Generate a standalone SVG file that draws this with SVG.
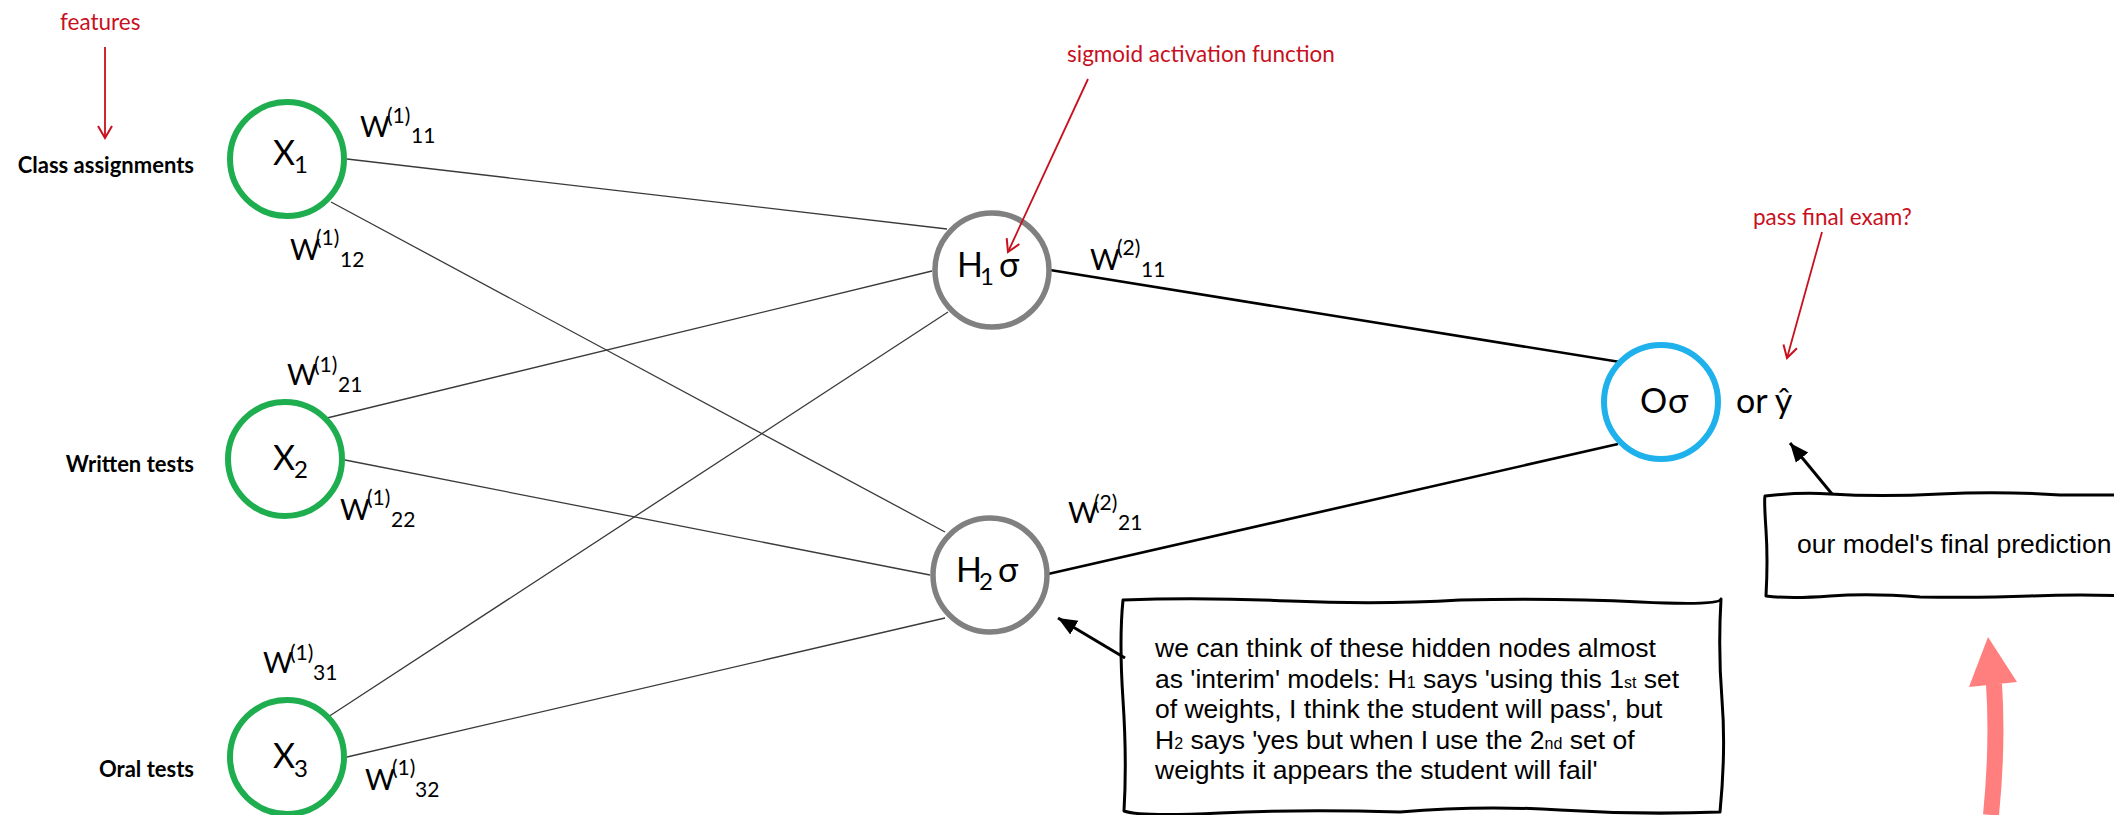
<svg xmlns="http://www.w3.org/2000/svg" width="2114" height="815" viewBox="0 0 2114 815">
<style>
.cat{font-family:Lato,"Liberation Sans",sans-serif;font-weight:bold;font-size:22px;text-anchor:end;fill:#000}
.red{font-family:Lato,"Liberation Sans",sans-serif;font-size:22.5px;fill:#c8101e}
.w{font-family:Lato,"Open Sans",sans-serif;font-size:29px;fill:#000}
.ws{font-size:21px}
.node{font-family:Lato,"Open Sans","DejaVu Sans",sans-serif;font-size:34px;fill:#000}
.nsub{font-size:24px}
.note{font-family:"Liberation Sans",Arial,sans-serif;font-size:26.5px;fill:#000}
.small{font-size:16px}
.inp{fill:#fff;stroke:#1fae4f;stroke-width:6}
.hid{fill:#fff;stroke:#808080;stroke-width:5.5}
.out{fill:#fff;stroke:#1fb1ec;stroke-width:6}
.thin{stroke:#3a3a3a;stroke-width:1.3;fill:none}
.thick{stroke:#000;stroke-width:2.6;fill:none}
.redarr{stroke:#c8101e;stroke-width:1.8;fill:none}
.blkarr{stroke:#000;stroke-width:3;fill:none}
.box{fill:#fff;stroke:#000;stroke-width:3;stroke-linejoin:round}
</style>
<defs>
<marker id="mRed" markerUnits="userSpaceOnUse" markerWidth="18" markerHeight="18" viewBox="0 0 18 18" refX="15" refY="9" orient="auto">
<path d="M3,2 L15,9 L3,16" fill="none" stroke="#c8101e" stroke-width="2"/>
</marker>
<marker id="mBlk" markerUnits="userSpaceOnUse" markerWidth="20" markerHeight="18" viewBox="0 0 20 18" refX="19" refY="9" orient="auto">
<path d="M0,1 L19,9 L0,17 z" fill="#000"/>
</marker>
</defs>
<rect width="2114" height="815" fill="#fff"/>

<g id="connectors">
<line class="thin" x1="347" y1="159" x2="947" y2="229"/>
<line class="thin" x1="331" y1="202" x2="945" y2="532"/>
<line class="thin" x1="327" y1="418" x2="932" y2="271"/>
<line class="thin" x1="345" y1="460" x2="930" y2="575"/>
<line class="thin" x1="328" y1="717" x2="948" y2="312"/>
<line class="thin" x1="347" y1="757" x2="945" y2="618"/>
<line class="thick" x1="1050" y1="270" x2="1620" y2="362"/>
<line class="thick" x1="1048" y1="574" x2="1618" y2="444"/>
</g>

<g id="labels">
<text class="red" x="60" y="30">features</text>
<text class="red" x="1067" y="62">sigmoid activation function</text>
<text class="red" x="1753" y="225">pass final exam?</text>
<text class="cat" x="194" y="173">Class assignments</text>
<text class="cat" x="194" y="472">Written tests</text>
<text class="cat" x="194" y="777">Oral tests</text>
</g>

<g id="node-x1">
<circle class="inp" cx="287" cy="159" r="57"/>
<text class="node"><tspan x="273" y="165">X</tspan><tspan class="nsub" x="294" y="173">1</tspan></text>
</g>
<g id="node-x2">
<circle class="inp" cx="285" cy="459" r="57"/>
<text class="node"><tspan x="273" y="470">X</tspan><tspan class="nsub" x="294" y="478">2</tspan></text>
</g>
<g id="node-x3">
<circle class="inp" cx="287" cy="757" r="57"/>
<text class="node"><tspan x="273" y="768">X</tspan><tspan class="nsub" x="294" y="777">3</tspan></text>
</g>
<g id="node-h1">
<circle class="hid" cx="992" cy="270" r="57"/>
<text class="node"><tspan x="957" y="277">H</tspan><tspan class="nsub" x="980" y="285">1</tspan><tspan x="999" y="277">σ</tspan></text>
</g>
<g id="node-h2">
<circle class="hid" cx="990" cy="575" r="57"/>
<text class="node"><tspan x="956" y="582">H</tspan><tspan class="nsub" x="979" y="590">2</tspan><tspan x="998" y="582">σ</tspan></text>
</g>
<g id="node-o">
<circle class="out" cx="1661" cy="402" r="57"/>
<text class="node"><tspan x="1640" y="413">O</tspan><tspan x="1668" y="413">σ</tspan></text>
<text class="node" x="1736" y="413">or ŷ</text>
</g>

<g id="weights">
<text class="w"><tspan x="360" y="137">W</tspan><tspan class="ws" x="387" y="123">(1)</tspan><tspan class="ws" x="411" y="143">11</tspan></text>
<text class="w"><tspan x="290" y="260">W</tspan><tspan class="ws" x="316" y="245">(1)</tspan><tspan class="ws" x="340" y="267">12</tspan></text>
<text class="w"><tspan x="287" y="385">W</tspan><tspan class="ws" x="314" y="372">(1)</tspan><tspan class="ws" x="338" y="392">21</tspan></text>
<text class="w"><tspan x="340" y="520">W</tspan><tspan class="ws" x="367" y="505">(1)</tspan><tspan class="ws" x="391" y="527">22</tspan></text>
<text class="w"><tspan x="263" y="673">W</tspan><tspan class="ws" x="290" y="660">(1)</tspan><tspan class="ws" x="313" y="680">31</tspan></text>
<text class="w"><tspan x="365" y="790">W</tspan><tspan class="ws" x="392" y="775">(1)</tspan><tspan class="ws" x="415" y="797">32</tspan></text>
<text class="w"><tspan x="1090" y="270">W</tspan><tspan class="ws" x="1117" y="255">(2)</tspan><tspan class="ws" x="1141" y="277">11</tspan></text>
<text class="w"><tspan x="1068" y="523">W</tspan><tspan class="ws" x="1094" y="510">(2)</tspan><tspan class="ws" x="1118" y="530">21</tspan></text>
</g>

<g id="note-hidden">
<path class="box" d="M1123,600 Q1200,597 1290,601 T1460,600 Q1560,598 1640,602 T1721,599 Q1718,650 1722,700 T1720,812 Q1640,815 1560,810 T1400,812 Q1300,809 1220,813 T1124,811 Q1127,760 1123,700 T1123,600 Z"/>
<text class="note">
<tspan x="1155" y="657">we can think of these hidden nodes almost</tspan>
<tspan x="1155" y="687.5">as 'interim' models: H<tspan class="small">1</tspan> says 'using this 1<tspan class="small">st</tspan> set</tspan>
<tspan x="1155" y="718">of weights, I think the student will pass', but</tspan>
<tspan x="1155" y="748.5">H<tspan class="small">2</tspan> says 'yes but when I use the 2<tspan class="small">nd</tspan> set of</tspan>
<tspan x="1155" y="779">weights it appears the student will fail'</tspan>
</text>
</g>

<g id="note-output">
<path class="box" d="M1765,496 Q1800,492 1830,494 Q1880,497 1940,494 T2060,495 L2130,495 L2130,596 Q2080,594 2030,596 T1920,597 Q1870,593 1830,596 T1766,596 Q1768,560 1766,530 T1765,496 Z"/>
<text class="note" x="1797" y="553">our model's final prediction</text>
</g>

<g id="annotation-arrows">
<line class="redarr" x1="105" y1="47" x2="105" y2="138" marker-end="url(#mRed)"/>
<line class="redarr" x1="1088" y1="79" x2="1008" y2="252" marker-end="url(#mRed)"/>
<line class="redarr" x1="1822" y1="232" x2="1787" y2="358" marker-end="url(#mRed)"/>
<line class="blkarr" x1="1125" y1="658" x2="1058" y2="618" marker-end="url(#mBlk)"/>
<line class="blkarr" x1="1832" y1="494" x2="1790" y2="443" marker-end="url(#mBlk)"/>
<path d="M1991,815 Q1998,745 1994,684" fill="none" stroke="#ff7f7f" stroke-width="16"/>
<polygon points="1988,637 2017,682 1969,687" fill="#ff7f7f"/>
</g>
</svg>
